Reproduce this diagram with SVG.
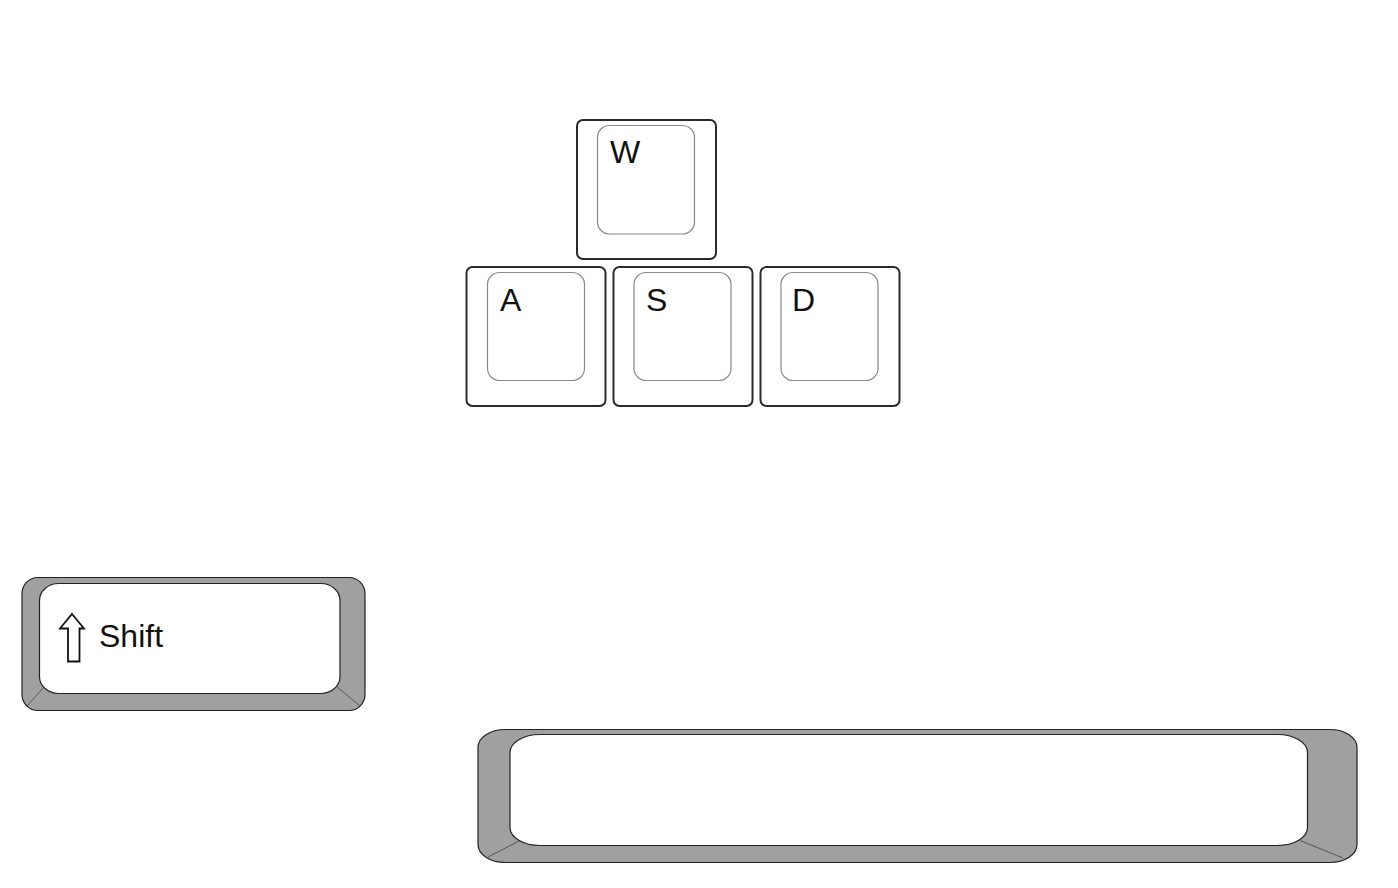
<svg xmlns="http://www.w3.org/2000/svg" width="1398" height="888" viewBox="0 0 1398 888">
<style>
.outer{fill:#fff;stroke:#2a2a2a;stroke-width:2}
.inner{fill:#fff;stroke:#8a8a8a;stroke-width:1.2}
.lbl{font-family:"Liberation Sans",Arial,sans-serif;font-size:32px;fill:#111}
.base{fill:#a0a0a0;stroke:#222;stroke-width:1.2}
.top{fill:#fff;stroke:#222;stroke-width:1.2}
.bev{stroke:#555;stroke-width:1;fill:none}
</style>
<rect width="1398" height="888" fill="#fff"/>
<g id="key-w">
<rect class="outer" x="577" y="120" width="139" height="139" rx="6"/>
<rect class="inner" x="597.5" y="125.5" width="97" height="108.5" rx="12"/>
<text class="lbl" x="610" y="163">W</text>
</g>
<g id="key-a">
<rect class="outer" x="466.5" y="267" width="139" height="139" rx="6"/>
<rect class="inner" x="487.5" y="272.5" width="97" height="108" rx="12"/>
<text class="lbl" x="500" y="311">A</text>
</g>
<g id="key-s">
<rect class="outer" x="613.5" y="267" width="139" height="139" rx="6"/>
<rect class="inner" x="634" y="272.5" width="97" height="108" rx="12"/>
<text class="lbl" x="646" y="311">S</text>
</g>
<g id="key-d">
<rect class="outer" x="760.5" y="267" width="139" height="139" rx="6"/>
<rect class="inner" x="781" y="272.5" width="97" height="108" rx="12"/>
<text class="lbl" x="792" y="311">D</text>
</g>
<g id="key-shift">
<rect class="base" x="22" y="577.5" width="343" height="133" rx="16" ry="16"/>
<line class="bev" x1="44" y1="687" x2="27" y2="706"/>
<line class="bev" x1="336" y1="686" x2="360" y2="706"/>
<rect class="top" x="39.5" y="583.5" width="300.5" height="110" rx="19" ry="17"/>
<path d="M72 614 L84 628.5 L79.5 628.5 L79.5 661.5 L68 661.5 L68 628.5 L60 628.5 Z" fill="#fff" stroke="#111" stroke-width="1.8" stroke-linejoin="miter"/>
<text class="lbl" x="99" y="647">Shift</text>
</g>
<g id="key-space">
<rect class="base" x="478" y="729.5" width="879" height="133" rx="27" ry="18"/>
<line class="bev" x1="520" y1="840.5" x2="488" y2="857"/>
<line class="bev" x1="1300" y1="840.5" x2="1343" y2="858"/>
<rect class="top" x="510" y="734.5" width="797.5" height="111" rx="30" ry="18"/>
</g>
<g id="connectors"></g>
</svg>
